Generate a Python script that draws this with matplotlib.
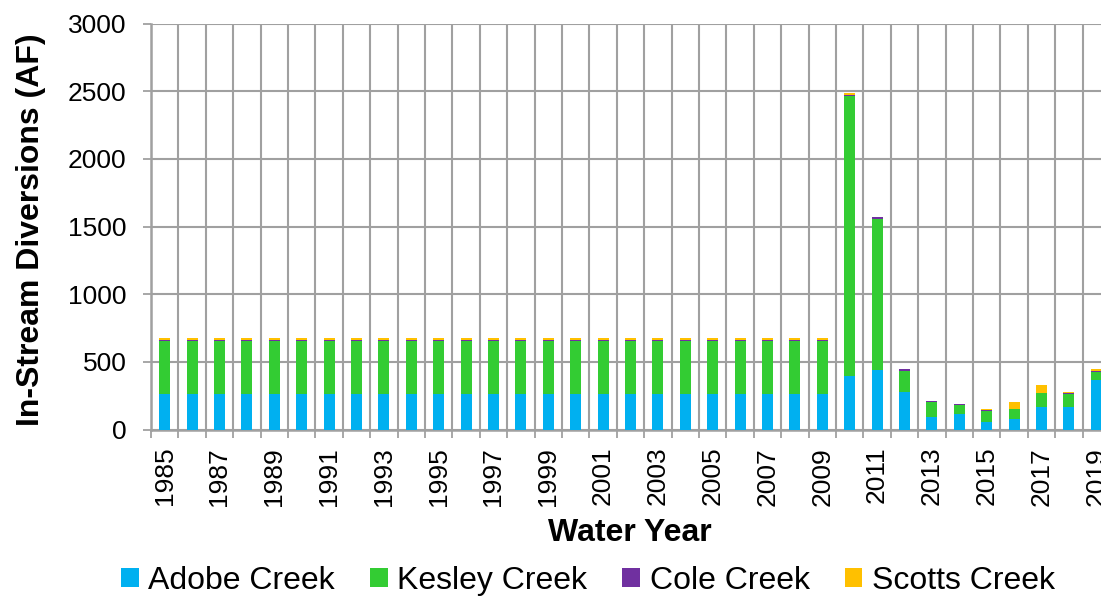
import matplotlib
matplotlib.use("Agg")
import matplotlib.pyplot as plt
import numpy as np

plt.rcParams['font.family'] = ['Liberation Sans', 'DejaVu Sans']

years = list(range(1985, 2020))
adobe = [265] * 25 + [395, 440, 275, 90, 115, 53, 75, 169, 164, 364]
kesley = [390] * 25 + [2070, 1118, 160, 113, 68, 84, 74, 98, 98, 61]
cole = [10] * 25 + [10, 15, 14, 8, 8, 5, 5, 5, 8, 10]
scotts = [12] * 25 + [8, 0, 0, 0, 0, 12, 49, 59, 10, 12]

series_names = ["Adobe Creek", "Kesley Creek", "Cole Creek", "Scotts Creek"]
series_colors = ["#00B0F0", "#33CC33", "#7030A0", "#FFC000"]

W, H = 1101, 596
fig = plt.figure(figsize=(W / 100, H / 100), dpi=100)
left, right, top, bottom = 151, 1110, 23.5, 429.5
ax = fig.add_axes([left / W, 1 - bottom / H, (right - left) / W, (bottom - top) / H])

x = np.arange(len(years))
base = np.zeros(len(years))
for vals, name, col in zip([adobe, kesley, cole, scotts], series_names, series_colors):
    v = np.array(vals, dtype=float)
    ax.bar(x, v, bottom=base, width=0.4, color=col, label=name, zorder=3)
    base += v

ax.set_xlim(-0.5, len(years) - 0.5)
ax.set_ylim(0, 3000)
ax.set_yticks(np.arange(0, 3001, 500))

grid_col = "#a0a0a0"
ax.set_xticks(x[::2])
ax.set_xticklabels([str(y) for y in years[::2]], rotation=90, fontsize=19)
ax.set_xticks(np.arange(-0.5, len(years), 1), minor=True)
ax.tick_params(axis='x', which='major', length=0, pad=12.5)
ax.tick_params(axis='x', which='minor', length=6, width=1.3, color=grid_col)
ax.tick_params(axis='y', length=6, width=1.3, color=grid_col, labelsize=19, pad=11.5)

ax.grid(True, axis='y', which='major', color=grid_col, linewidth=1.5, zorder=0)
ax.grid(True, axis='x', which='minor', color=grid_col, linewidth=1.5, zorder=0)
ax.grid(False, axis='x', which='major')
ax.set_axisbelow(True)

for s in ['top', 'right']:
    ax.spines[s].set_visible(False)
for s in ['left', 'bottom']:
    ax.spines[s].set_color(grid_col)
    ax.spines[s].set_linewidth(1.8)

fig.text(31 / W, 1 - 230 / H, "In-Stream Diversions (AF)", rotation=90,
         ha='center', va='center', fontsize=23, fontweight='bold')
fig.text(630 / W, 1 - 533 / H, "Water Year", ha='center', va='center',
         fontsize=23, fontweight='bold')

fig.legend(loc='center', bbox_to_anchor=(588 / W, 1 - 581 / H), ncol=4,
           frameon=False, fontsize=23, handlelength=0.55, handleheight=0.55,
           handletextpad=0.3, columnspacing=1.1, borderpad=0, borderaxespad=0)

fig.savefig("out.png", dpi=100)
